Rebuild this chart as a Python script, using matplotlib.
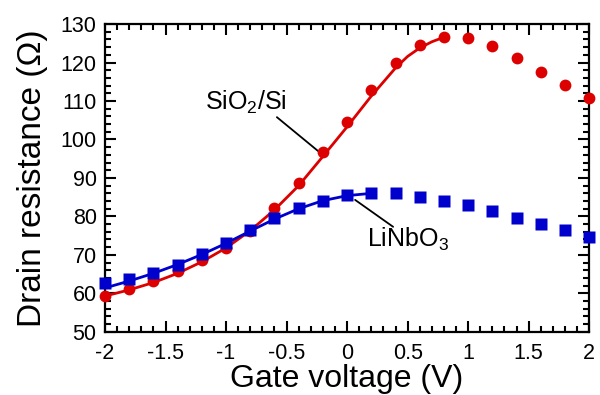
import matplotlib.pyplot as plt
from matplotlib.ticker import MultipleLocator

plt.rcParams['font.family'] = ['Liberation Sans', 'DejaVu Sans']
plt.rcParams['mathtext.fontset'] = 'custom'
plt.rcParams['mathtext.rm'] = 'Liberation Sans'

# measured points
v_gate = [-2.0, -1.8, -1.6, -1.4, -1.2, -1.0, -0.8, -0.6, -0.4, -0.2, 0.0,
          0.2, 0.4, 0.6, 0.8, 1.0, 1.2, 1.4, 1.6, 1.8, 2.0]
r_sio2 = [59.4, 61.1, 63.1, 65.7, 68.7, 71.7, 76.3, 82.1, 88.6, 96.7, 104.6,
          112.9, 119.8, 124.5, 126.7, 126.4, 124.3, 121.1, 117.6, 114.2, 110.9]
r_linbo3 = [62.6, 63.7, 65.2, 67.4, 70.3, 73.2, 76.5, 79.5, 82.3, 84.1, 85.6,
            86.0, 86.0, 85.1, 84.0, 83.0, 81.3, 79.5, 78.0, 76.5, 74.6]

# fit curves
fit_v_sio2 = [-2.0, -1.8, -1.6, -1.4, -1.2, -1.0, -0.8, -0.6, -0.4, -0.2, 0.0,
              0.2, 0.4, 0.5, 0.6, 0.7, 0.8]
fit_r_sio2 = [59.3, 60.9, 62.8, 65.2, 68.2, 71.8, 76.3, 81.7, 88.0, 95.6, 103.3,
              111.3, 118.6, 121.6, 123.8, 125.4, 126.6]
fit_v_linbo3 = [-2.0, -1.8, -1.6, -1.4, -1.2, -1.0, -0.8, -0.6, -0.4, -0.2, 0.0, 0.2]
fit_r_linbo3 = [61.4, 63.2, 65.2, 67.5, 70.1, 73.0, 76.2, 79.3, 82.0, 84.1, 85.4, 86.0]

red = '#DD0000'
blue = '#0000CC'

fig = plt.figure(figsize=(6, 3.95), dpi=100)
ax = fig.add_axes([0.175, 0.16, 0.807, 0.779])

ax.plot(fit_v_sio2, fit_r_sio2, color=red, lw=2)
ax.plot(fit_v_linbo3, fit_r_linbo3, color=blue, lw=2)
ax.plot(v_gate, r_sio2, 'o', color=red, ms=8.5, mec='none', clip_on=False, zorder=4)
ax.plot(v_gate, r_linbo3, 's', color=blue, ms=8, mec='none', clip_on=False, zorder=4)

ax.set_xlim(-2, 2)
ax.set_ylim(50, 130)
ax.xaxis.set_minor_locator(MultipleLocator(0.1))
ax.yaxis.set_major_locator(MultipleLocator(10))
ax.yaxis.set_minor_locator(MultipleLocator(2))
ax.set_xticks([-2, -1.5, -1, -0.5, 0, 0.5, 1, 1.5, 2])
ax.set_xticklabels(['-2', '-1.5', '-1', '-0.5', '0', '0.5', '1', '1.5', '2'])
ax.tick_params(which='both', direction='in', top=True, right=True, width=1.5)
ax.tick_params(which='major', length=8, labelsize=15.5)
ax.tick_params(axis='x', which='major', pad=8)
ax.tick_params(axis='y', which='major', pad=6)
ax.tick_params(which='minor', length=4)
for s in ax.spines.values():
    s.set_linewidth(1.6)

ax.set_xlabel('Gate voltage (V)', fontsize=23, labelpad=0)
ax.set_ylabel('Drain resistance (\u03a9)', fontsize=24, labelpad=9)

# labels with leader lines
ax.text(-0.835, 109.7, 'SiO$_2$/Si', fontsize=18, ha='center', va='center')
ax.annotate('', xy=(-0.24, 97.0), xytext=(-0.58, 105.8),
            arrowprops=dict(arrowstyle='-', color='black', lw=1.3,
                            shrinkA=0, shrinkB=0))
ax.text(0.504, 73.9, 'LiNbO$_3$', fontsize=18, ha='center', va='center')
ax.annotate('', xy=(0.38, 77.3), xytext=(0.066, 84.3),
            arrowprops=dict(arrowstyle='-', color='black', lw=1.3,
                            shrinkA=0, shrinkB=0))

fig.savefig('out.png', dpi=100)
